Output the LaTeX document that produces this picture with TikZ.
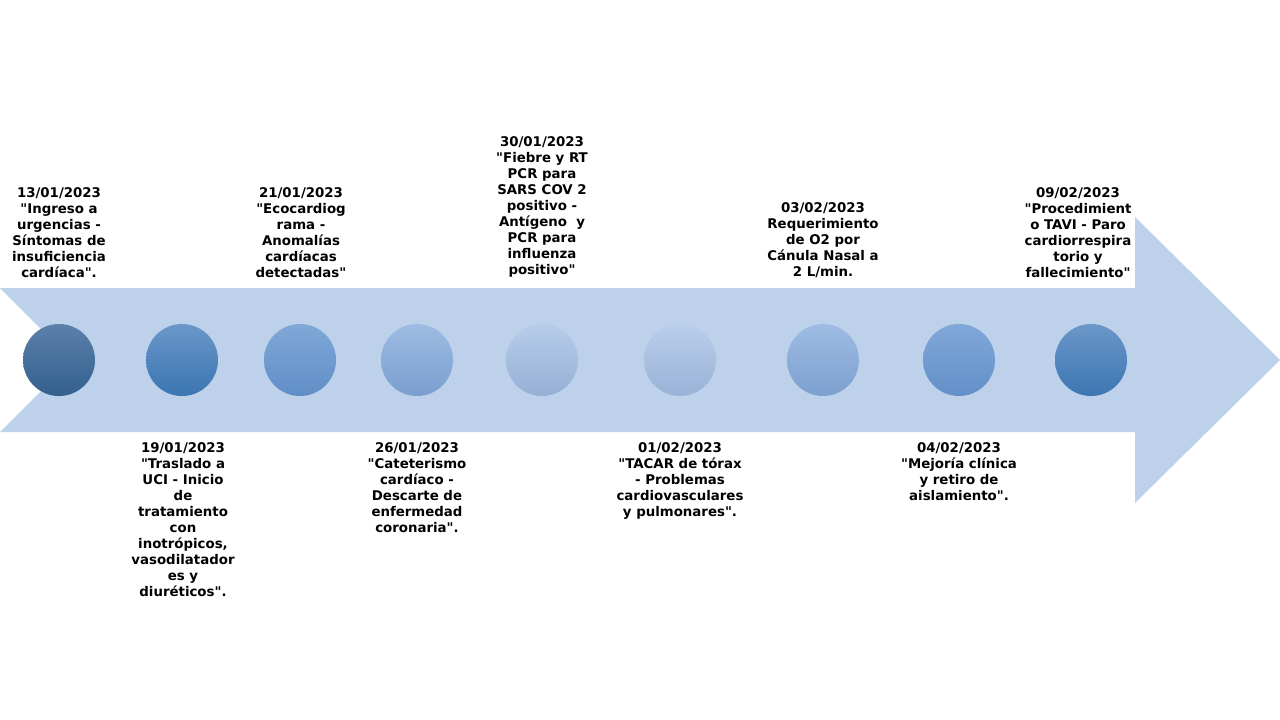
\documentclass[tikz,border=0pt]{standalone}
\usepackage{fontspec}
\setmainfont{DejaVu Sans}[Ligatures=TeXOff]
\definecolor{flecha}{HTML}{BDD1EA}
\tikzset{hito/.style={circle,draw=none,inner sep=0pt,minimum size=54pt},
texto/.style={font=\bfseries\fontsize{10}{12}\selectfont,align=center,inner sep=0pt},
arriba/.style={texto,anchor=south},abajo/.style={texto,anchor=north}}
\begin{document}
\begin{tikzpicture}[x=0.75pt,y=-0.75pt]
\useasboundingbox (0,0) rectangle (1280,720);
\pgfmathsetmacro{\yc}{360}
\pgfmathsetmacro{\ya}{278}
\pgfmathsetmacro{\yb}{442}
\fill[flecha](0,288)--(1135,288)--(1135,217)--(1280,\yc)--(1135,503)--(1135,432)--(0,432)--(72,\yc)--cycle;
\foreach \i/\x/\ca/\cb in {1/59/5B80AA/33608F,2/182/6A97C8/3B75B2,3/300/80A8D8/5F8EC6,4/417/9EBCE3/7A9ECF,5/542/B6CDEA/96AFD4,6/680/B8CEEB/99B2D7,7/823/9EBCE3/7DA0D0,8/959/80A8D8/6290C8,9/1091/6A97C8/3D76B2}{\definecolor{ca}{HTML}{\ca}\definecolor{cb}{HTML}{\cb}\node[hito,top color=ca,bottom color=cb](c\i) at (\x,\yc){};}
\node[arriba](t1) at (59,\ya){13/01/2023\\"Ingreso a\\urgencias -\\Síntomas de\\insuficiencia\\cardíaca".};
\node[abajo](t2) at (183,\yb){19/01/2023\\"Traslado a\\UCI - Inicio\\de\\tratamiento\\con\\inotrópicos,\\vasodilatador\\es y\\diuréticos".};
\node[arriba](t3) at (301,\ya){21/01/2023\\"Ecocardiog\\rama -\\Anomalías\\cardíacas\\detectadas"};
\node[abajo](t4) at (417,\yb){26/01/2023\\"Cateterismo\\cardíaco -\\Descarte de\\enfermedad\\coronaria".};
\node[arriba](t5) at (542,\ya){30/01/2023\\"Fiebre y RT\\PCR para\\SARS COV 2\\positivo -\\Antígeno~~y\\PCR para\\influenza\\positivo"};
\node[abajo](t6) at (680,\yb){01/02/2023\\"TACAR de tórax\\- Problemas\\cardiovasculares\\y pulmonares".};
\node[arriba](t7) at (823,\ya){03/02/2023\\Requerimiento\\de O2 por\\Cánula Nasal a\\2 L/min.};
\node[abajo](t8) at (959,\yb){04/02/2023\\"Mejoría clínica\\y retiro de\\aislamiento".};
\node[arriba](t9) at (1078,\ya){09/02/2023\\"Procedimient\\o TAVI - Paro\\cardiorrespira\\torio y\\fallecimiento"};
\end{tikzpicture}
\end{document}
